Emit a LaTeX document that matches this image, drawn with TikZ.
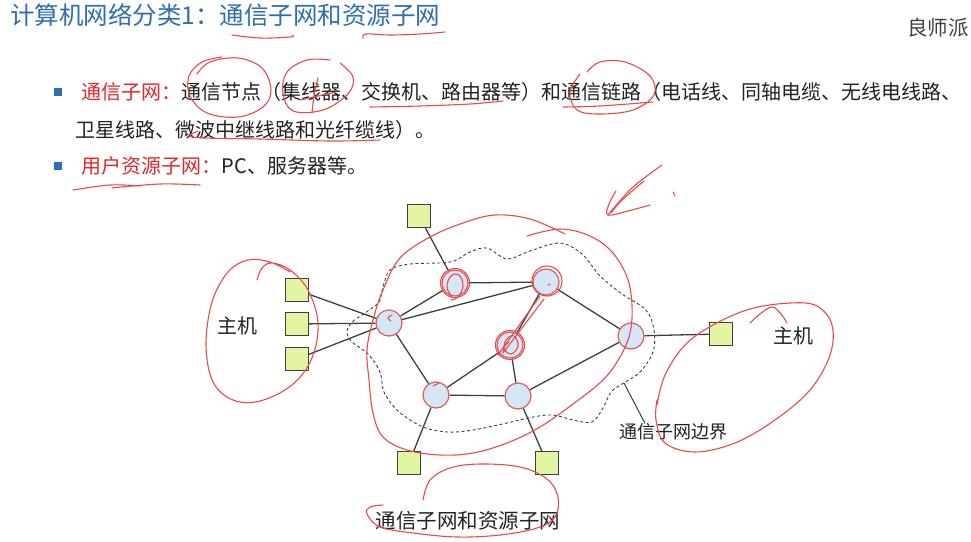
\documentclass[tikz,border=0pt]{standalone}
\usepackage{fontspec}
\setmainfont{Noto Sans CJK SC}
\usetikzlibrary{arrows.meta}

\definecolor{titleblue}{HTML}{2F6FB0}
\definecolor{keyred}{HTML}{E2262B}
\definecolor{bodytext}{HTML}{222222}
\definecolor{pen}{HTML}{E84A4E}
\definecolor{routerfill}{HTML}{D5E7F7}
\definecolor{routerline}{HTML}{E05A5A}
\definecolor{hostfill}{HTML}{E2F5A3}
\definecolor{hostline}{HTML}{3F3F3F}
\definecolor{linkgray}{HTML}{3F3F3F}

\tikzset{
  router/.style={circle, fill=routerfill, draw=routerline, line width=1.2pt, minimum size=26pt, inner sep=0},
  host/.style={rectangle, fill=hostfill, draw=hostline, line width=1.1pt, minimum size=23pt, inner sep=0},
  link/.style={draw=linkgray, line width=1.3pt},
  boundary/.style={draw=linkgray, line width=0.9pt, dash pattern=on 3pt off 2.5pt},
  ink/.style={draw=pen, line width=1.1pt, line cap=round, line join=round},
  txt/.style={inner sep=0, anchor=west, text=bodytext, font=\fontsize{20}{24}\selectfont},
  bulletbox/.style={fill=titleblue, minimum size=8pt, inner sep=0},
  lbl/.style={inner sep=0, text=bodytext},
}

\begin{document}
\begin{tikzpicture}[x=1pt, y=-1pt]
\useasboundingbox (0,0) rectangle (971,541);
\fill[white] (0,0) rectangle (971,541);

% heading and brand
\node[anchor=west, inner sep=0, text=titleblue, font=\fontsize{24.5}{28}\selectfont] (title) at (10,15) {计算机网络分类1：通信子网和资源子网};
\node[anchor=east, inner sep=0, text=black!75, font=\fontsize{20.5}{24}\selectfont] (brand) at (969,28) {良师派};

% bullet list
\node[bulletbox] (b1) at (58,92) {};
\node[txt, text=keyred] (k1) at (81,92) {通信子网：};
\node[txt] (d1) at (k1.east) {通信节点（集线器、交换机、路由器等）和通信链路（电话线、同轴电缆、无线电线路、};
\node[txt] (d2) at (75,130) {卫星线路、微波中继线路和光纤缆线）。};
\node[bulletbox] (b2) at (58,166) {};
\node[txt, text=keyred] (k3) at (81,166) {用户资源子网：};
\node[txt] (d3) at (k3.east) {PC、服务器等。};

% communication subnet boundary
\draw[boundary] plot[smooth cycle, tension=0.55] coordinates {
  (390,270) (410,264) (450,262) (470,252) (487,248) (507,259) (530,251) (560,243)
  (582,254) (600,276) (622,294) (646,310) (654,330) (653,352) (640,372) (622,384)
  (611,392) (603,408) (592,422) (573,420) (553,415) (533,417) (507,423) (473,430)
  (448,432) (423,427) (398,411) (384,392) (380,372) (368,354) (352,342) (347,332)
  (352,322) (365,313) (379,302) (383,287)};

% routers
\node[router] (r1) at (389,323) {};
\node[router] (r2) at (455,283) {};
\node[router] (r3) at (546,282) {};
\node[router] (r4) at (510,345) {};
\node[router] (r5) at (631,336) {};
\node[router] (r6) at (436,395) {};
\node[router] (r7) at (518,396) {};

% hosts
\node[host] (ht)  at (419,216) {};
\node[host] (hl1) at (297,290) {};
\node[host] (hl2) at (297,324) {};
\node[host] (hl3) at (297,359) {};
\node[host] (hr)  at (721,334) {};
\node[host] (hb1) at (409,463) {};
\node[host] (hb2) at (547,463) {};

% links
\draw[link] (ht) -- (r2);
\draw[link] (hl1) -- (r1);
\draw[link] (hl2) -- (r1);
\draw[link] (hl3) -- (r1);
\draw[link] (r1) -- (r2);
\draw[link] (r1) -- (r3);
\draw[link] (r1) -- (r6);
\draw[link] (r2) -- (r3);
\draw[link] (r3) -- (r4);
\draw[link] (r3) -- (r5);
\draw[link] (r4) -- (r6);
\draw[link] (r4) -- (r7);
\draw[link] (r6) -- (r7);
\draw[link] (r7) -- (r5);
\draw[link] (r6) -- (hb1);
\draw[link] (r7) -- (hb2);
\draw[link] (r5) -- (hr);

% labels
\node[lbl, font=\fontsize{20}{24}\selectfont] (hostL) at (237,326) {主机};
\node[lbl, font=\fontsize{20}{24}\selectfont] (hostR) at (793,336) {主机};
\node[lbl, font=\fontsize{18}{22}\selectfont] (edge) at (673,432) {通信子网边界};
\node[lbl, font=\fontsize{20.5}{24}\selectfont] (caption) at (468,521) {通信子网和资源子网};
\coordinate (bpt) at (624,383);
\draw[draw=linkgray, line width=1pt] ([xshift=-28pt]edge.north) -- (bpt);

% ---- red pen marks ----
% heading underlines
\draw[ink] plot[smooth, tension=0.6] coordinates {(232,35) (260,38) (290,37) (293,35)};
\draw[ink] plot[smooth, tension=0.6] coordinates {(363,38) (366,34) (390,35) (420,34) (445,32)};
% circles and underlines in the list
\draw[ink] plot[smooth, tension=0.6] coordinates {(197,74) (210,62) (238,58) (262,68) (271,90) (263,107) (238,117) (207,113) (190,96) (189,76) (202,62) (222,57)};
\draw[ink] plot[smooth, tension=0.6] coordinates {(330,60) (307,60) (287,72) (283,93) (293,111) (323,110) (348,94) (353,77) (340,63)};
\draw[ink] plot[smooth, tension=0.6] coordinates {(318,78) (314,96) (312,113)};
\draw[ink] plot[smooth, tension=0.6] coordinates {(300,100) (318,96) (336,92)};
\draw[ink] plot[smooth, tension=0.6] coordinates {(370,107) (420,106) (470,104) (503,101)};
\draw[ink] plot[smooth, tension=0.6] coordinates {(587,72) (600,62) (625,62) (650,76) (654,95) (633,110) (600,114) (577,110) (570,92) (580,74)};
\draw[ink] plot[smooth, tension=0.6] coordinates {(563,107) (600,106) (653,102)};
\draw[ink] plot[smooth, tension=0.6] coordinates {(198,131) (190,136) (205,138) (260,139) (330,141) (380,140)};
\draw[ink] plot[smooth, tension=0.6] coordinates {(73,190) (110,185) (140,186)};
\draw[ink] plot[smooth, tension=0.6] coordinates {(112,188) (160,184) (200,185)};
% arrow-like stroke above the network
\draw[ink] plot[smooth, tension=0.6] coordinates {(662,165) (632,188) (608,215)};
\draw[ink] plot[smooth, tension=0.6] coordinates {(644,181) (622,200) (611,213)};
\draw[ink] plot[smooth, tension=0.6] coordinates {(616,191) (609,204) (608,215) (628,211) (650,205)};
\draw[ink] (673,192) -- (675,196);
% loop around the subnet
\draw[ink] plot[smooth, tension=0.6] coordinates {
  (527,236) (560,229) (590,236) (612,252) (627,277) (632,305) (630,333) (620,357)
  (603,380) (573,404) (540,427) (507,443) (473,453) (440,455) (407,450) (383,437)
  (373,413) (369,380) (367,350) (373,320) (383,290) (400,258) (430,237) (463,223)
  (495,215) (530,219) (565,234)};
% loops around the hosts
\draw[ink] plot[smooth, tension=0.6] coordinates {
  (257,280) (262,268) (272,263) (290,270) (308,290) (318,323) (312,358) (292,385)
  (260,401) (233,400) (213,382) (206,345) (212,302) (228,272) (248,260) (270,262) (290,272)};
\draw[ink] plot[smooth, tension=0.6] coordinates {(750,323) (772,307) (787,323)};
\draw[ink] plot[smooth, tension=0.6] coordinates {
  (657,405) (665,375) (685,345) (713,325) (750,309) (790,303) (817,306) (832,325)
  (830,355) (810,390) (775,420) (735,443) (695,452) (665,443) (656,420) (657,400)};
% loop around the caption
\draw[ink] plot[smooth, tension=0.6] coordinates {
  (423,500) (430,480) (450,468) (480,464) (520,467) (547,479) (558,497) (555,517)
  (537,528) (500,535) (457,537) (413,533) (380,527) (367,514) (370,507) (383,505)};
% marks on the routers
\draw[ink] plot[smooth, tension=0.7] coordinates {(452,297) (447,287) (451,276) (459,275) (463,286) (458,297) (451,300)};
\draw[ink] (455,283) circle[radius=14.5pt];
\draw[ink] (547,281) circle[radius=15pt];
\draw[ink] (548,285) -- (550,284);
\draw[ink] (510,345) circle[radius=14.5pt];
\draw[ink] plot[smooth, tension=0.7] coordinates {(503,352) (506,340) (514,336) (518,346) (511,354) (504,348) (509,342)};
\draw[ink] (498,355) -- (540,296);
\draw[ink] (503,353) -- (544,299);
\draw[ink] plot[smooth, tension=0.7] coordinates {(392,315) (388,318) (391,321)};
\draw[ink] (433,386) -- (439,383);
\end{tikzpicture}
\end{document}
